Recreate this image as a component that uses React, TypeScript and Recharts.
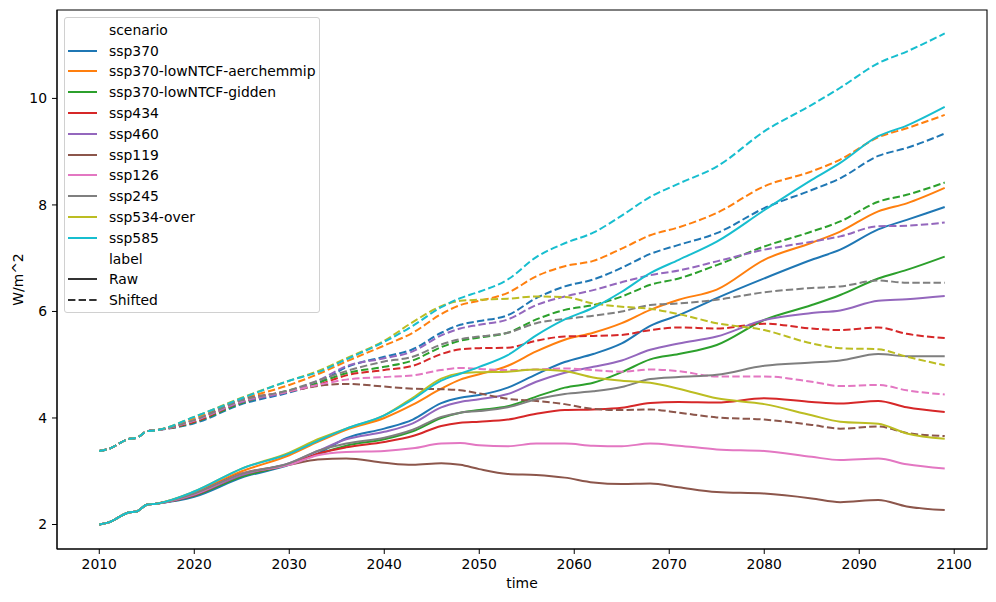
import { LineChart, Line, XAxis, YAxis, ReferenceArea, Label } from "recharts";

const years = [2010, 2011, 2013, 2014, 2015, 2016, 2020, 2025, 2030, 2033, 2036, 2040, 2043, 2046, 2048, 2050, 2053, 2056, 2059, 2062, 2065, 2068, 2071, 2075, 2080, 2085, 2088, 2092, 2095, 2099];

// all scenarios share the historical start
const rawStart = [2.0, 2.04, 2.22, 2.25, 2.37, 2.39];
const shiftedStart = [3.38, 3.42, 3.6, 3.63, 3.75, 3.77];

const ssp370Raw = [...rawStart, 2.52, 2.88, 3.12, 3.33, 3.62, 3.8, 3.97, 4.28, 4.38, 4.43, 4.57, 4.82, 5.05, 5.2, 5.4, 5.73, 5.93, 6.25, 6.62, 6.97, 7.16, 7.54, 7.72, 7.96];
const ssp370Shifted = [...shiftedStart, 3.9, 4.26, 4.48, 4.65, 4.95, 5.15, 5.29, 5.6, 5.75, 5.82, 5.93, 6.25, 6.47, 6.6, 6.82, 7.08, 7.25, 7.47, 7.94, 8.28, 8.5, 8.92, 9.07, 9.34];
const aerchemRaw = [...rawStart, 2.6, 3.0, 3.3, 3.55, 3.78, 4.0, 4.25, 4.55, 4.72, 4.82, 4.98, 5.25, 5.47, 5.6, 5.78, 6.03, 6.22, 6.41, 6.97, 7.29, 7.5, 7.88, 8.03, 8.32];
const aerchemShifted = [...shiftedStart, 4.0, 4.35, 4.62, 4.82, 5.06, 5.36, 5.6, 5.95, 6.12, 6.2, 6.35, 6.66, 6.85, 6.95, 7.18, 7.43, 7.58, 7.85, 8.35, 8.63, 8.85, 9.27, 9.44, 9.69];
const giddenRaw = [...rawStart, 2.54, 2.9, 3.13, 3.32, 3.48, 3.6, 3.75, 4.0, 4.1, 4.15, 4.22, 4.4, 4.57, 4.66, 4.86, 5.1, 5.2, 5.37, 5.84, 6.12, 6.31, 6.62, 6.78, 7.03];
const giddenShifted = [...shiftedStart, 3.92, 4.28, 4.52, 4.66, 4.84, 4.96, 5.08, 5.33, 5.45, 5.51, 5.6, 5.85, 6.03, 6.12, 6.28, 6.5, 6.62, 6.87, 7.22, 7.5, 7.69, 8.06, 8.19, 8.42];
const ssp434Raw = [...rawStart, 2.55, 2.93, 3.13, 3.33, 3.45, 3.55, 3.66, 3.85, 3.91, 3.93, 3.97, 4.08, 4.15, 4.16, 4.19, 4.28, 4.3, 4.29, 4.37, 4.3, 4.27, 4.32, 4.2, 4.11];
const ssp434Shifted = [...shiftedStart, 3.93, 4.3, 4.5, 4.62, 4.8, 4.9, 4.98, 5.2, 5.29, 5.31, 5.32, 5.45, 5.53, 5.54, 5.56, 5.65, 5.7, 5.68, 5.77, 5.68, 5.65, 5.7, 5.58, 5.5];
const ssp460Raw = [...rawStart, 2.56, 2.93, 3.15, 3.38, 3.6, 3.74, 3.9, 4.2, 4.3, 4.35, 4.45, 4.68, 4.85, 4.96, 5.08, 5.28, 5.4, 5.53, 5.84, 5.97, 6.02, 6.2, 6.23, 6.29];
const ssp460Shifted = [...shiftedStart, 3.95, 4.3, 4.5, 4.7, 4.97, 5.12, 5.25, 5.55, 5.68, 5.75, 5.85, 6.12, 6.28, 6.4, 6.55, 6.68, 6.77, 6.94, 7.16, 7.31, 7.41, 7.6, 7.61, 7.67];
const ssp119Raw = [...rawStart, 2.58, 2.96, 3.12, 3.22, 3.24, 3.16, 3.12, 3.15, 3.12, 3.04, 2.95, 2.93, 2.88, 2.79, 2.76, 2.77, 2.7, 2.61, 2.58, 2.49, 2.42, 2.46, 2.34, 2.27];
const ssp119Shifted = [...shiftedStart, 3.96, 4.34, 4.5, 4.6, 4.64, 4.59, 4.55, 4.54, 4.52, 4.46, 4.36, 4.32, 4.26, 4.17, 4.15, 4.16, 4.1, 4.01, 3.97, 3.87, 3.8, 3.84, 3.72, 3.66];
const ssp126Raw = [...rawStart, 2.57, 2.95, 3.12, 3.3, 3.36, 3.38, 3.43, 3.52, 3.53, 3.49, 3.47, 3.52, 3.52, 3.48, 3.47, 3.52, 3.48, 3.41, 3.38, 3.27, 3.21, 3.24, 3.13, 3.05];
const ssp126Shifted = [...shiftedStart, 3.95, 4.32, 4.5, 4.62, 4.72, 4.77, 4.8, 4.9, 4.94, 4.92, 4.9, 4.91, 4.93, 4.9, 4.87, 4.91, 4.88, 4.78, 4.78, 4.68, 4.6, 4.62, 4.52, 4.44];
const ssp245Raw = [...rawStart, 2.58, 2.95, 3.15, 3.38, 3.52, 3.63, 3.78, 4.02, 4.1, 4.13, 4.2, 4.35, 4.45, 4.5, 4.58, 4.73, 4.77, 4.81, 4.98, 5.04, 5.08, 5.2, 5.16, 5.16];
const ssp245Shifted = [...shiftedStart, 3.96, 4.33, 4.52, 4.7, 4.88, 5.06, 5.15, 5.38, 5.48, 5.53, 5.6, 5.78, 5.86, 5.92, 6.0, 6.12, 6.15, 6.22, 6.36, 6.44, 6.47, 6.58, 6.54, 6.54];
const ssp534Raw = [...rawStart, 2.62, 3.05, 3.35, 3.6, 3.8, 4.05, 4.38, 4.74, 4.84, 4.86, 4.87, 4.91, 4.88, 4.76, 4.7, 4.66, 4.55, 4.37, 4.26, 4.05, 3.93, 3.89, 3.71, 3.61];
const ssp534Shifted = [...shiftedStart, 4.02, 4.38, 4.7, 4.88, 5.12, 5.45, 5.8, 6.1, 6.2, 6.22, 6.24, 6.28, 6.27, 6.15, 6.09, 6.05, 5.95, 5.78, 5.65, 5.4, 5.31, 5.29, 5.15, 4.99];
const ssp585Raw = [...rawStart, 2.62, 3.05, 3.33, 3.57, 3.8, 4.05, 4.35, 4.7, 4.83, 4.96, 5.18, 5.55, 5.85, 6.07, 6.37, 6.72, 6.97, 7.31, 7.9, 8.47, 8.79, 9.29, 9.49, 9.84];
const ssp585Shifted = [...shiftedStart, 4.02, 4.37, 4.7, 4.86, 5.1, 5.43, 5.73, 6.08, 6.25, 6.37, 6.6, 7.02, 7.28, 7.48, 7.8, 8.15, 8.4, 8.72, 9.38, 9.88, 10.2, 10.66, 10.88, 11.22];

const scenarios = [
  { name: "ssp370", color: "#1f77b4", raw: ssp370Raw, shifted: ssp370Shifted },
  { name: "ssp370-lowNTCF-aerchemmip", color: "#ff7f0e", raw: aerchemRaw, shifted: aerchemShifted },
  { name: "ssp370-lowNTCF-gidden", color: "#2ca02c", raw: giddenRaw, shifted: giddenShifted },
  { name: "ssp434", color: "#d62728", raw: ssp434Raw, shifted: ssp434Shifted },
  { name: "ssp460", color: "#9467bd", raw: ssp460Raw, shifted: ssp460Shifted },
  { name: "ssp119", color: "#8c564b", raw: ssp119Raw, shifted: ssp119Shifted },
  { name: "ssp126", color: "#e377c2", raw: ssp126Raw, shifted: ssp126Shifted },
  { name: "ssp245", color: "#7f7f7f", raw: ssp245Raw, shifted: ssp245Shifted },
  { name: "ssp534-over", color: "#bcbd22", raw: ssp534Raw, shifted: ssp534Shifted },
  { name: "ssp585", color: "#17becf", raw: ssp585Raw, shifted: ssp585Shifted },
];

const xTicks = [2010, 2020, 2030, 2040, 2050, 2060, 2070, 2080, 2090, 2100];
const yTicks = [2, 4, 6, 8, 10];

const data = years.map((year, i) => {
  const row: Record<string, number> = { year };
  scenarios.forEach((s) => {
    row[s.name + "|raw"] = s.raw[i];
    row[s.name + "|shifted"] = s.shifted[i];
  });
  return row;
});

const FONT = "'DejaVu Sans', sans-serif";
const FS = 13.9;
const DASH = "7.4 3.2";
const xDomain = [2005.55, 2103.45];
const yDomain = [1.54, 11.66];

function LegendRow({ label, color, dash }: { label: string; color?: string; dash?: boolean }) {
  return (
    <div style={{ height: 20.8, display: "flex", alignItems: "center" }}>
      <svg width={29} height={6} style={{ marginLeft: 3, marginRight: 12, flexShrink: 0 }}>
        {color && (
          <line x1={0} y1={3} x2={29} y2={3} stroke={color} strokeWidth={2} strokeDasharray={dash ? DASH : undefined} />
        )}
      </svg>
      <span>{label}</span>
    </div>
  );
}

function LegendBox() {
  return (
    <div
      style={{
        position: "absolute",
        left: 64,
        top: 17,
        width: 256,
        height: 296,
        border: "1px solid #d0d0d0",
        borderRadius: 3,
        background: "rgba(255,255,255,0.8)",
        fontFamily: FONT,
        fontSize: FS,
        color: "#000",
        boxSizing: "border-box",
        paddingTop: 1.5,
      }}
    >
      <LegendRow label="scenario" />
      {scenarios.map((s) => (
        <LegendRow key={s.name} label={s.name} color={s.color} />
      ))}
      <LegendRow label="label" />
      <LegendRow label="Raw" color="#333333" />
      <LegendRow label="Shifted" color="#333333" dash />
    </div>
  );
}

export default function App() {
  return (
    <div style={{ position: "absolute", left: 0, top: 0, width: 996, height: 602, background: "#fff" }}>
      <LineChart width={996} height={602} data={data} margin={{ top: 10, right: 9, bottom: 0, left: 0 }}>
        <XAxis
          dataKey="year"
          type="number"
          domain={xDomain}
          ticks={xTicks}
          allowDataOverflow
          height={53}
          tickSize={5}
          tickMargin={5}
          stroke="#000"
          tick={{ fill: "#000", fontSize: FS, fontFamily: FONT }}
        >
          <Label
            content={({ viewBox }: any) => (
              <text
                x={viewBox.x + viewBox.width / 2}
                y={588}
                textAnchor="middle"
                fontFamily={FONT}
                fontSize={FS}
                fill="#000"
              >
                time
              </text>
            )}
          />
        </XAxis>
        <YAxis
          type="number"
          domain={yDomain}
          ticks={yTicks}
          allowDataOverflow
          width={57}
          tickSize={5}
          tickMargin={5}
          stroke="#000"
          tick={{ fill: "#000", fontSize: FS, fontFamily: FONT }}
        >
          <Label
            content={({ viewBox }: any) => {
              const cy = viewBox.y + viewBox.height / 2;
              return (
                <text
                  x={22.5}
                  y={cy}
                  transform={`rotate(-90 22.5 ${cy})`}
                  textAnchor="middle"
                  fontFamily={FONT}
                  fontSize={FS}
                  fill="#000"
                >
                  W/m^2
                </text>
              );
            }}
          />
        </YAxis>
        <ReferenceArea
          x1={xDomain[0]}
          x2={xDomain[1]}
          y1={yDomain[0]}
          y2={yDomain[1]}
          fill="none"
          fillOpacity={0}
          stroke="#000"
          strokeWidth={1.1}
        />
        {scenarios.map((s) => [
          <Line
            key={s.name + "r"}
            dataKey={s.name + "|raw"}
            type="monotone"
            stroke={s.color}
            strokeWidth={2}
            dot={false}
            isAnimationActive={false}
          />,
          <Line
            key={s.name + "s"}
            dataKey={s.name + "|shifted"}
            type="monotone"
            stroke={s.color}
            strokeWidth={2}
            strokeDasharray={DASH}
            dot={false}
            isAnimationActive={false}
          />,
        ])}
      </LineChart>
      <LegendBox />
    </div>
  );
}
